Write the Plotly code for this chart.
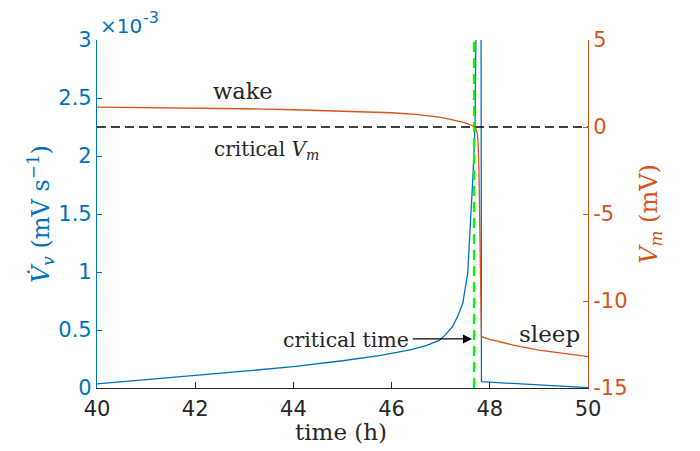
import plotly.graph_objects as go

# ---- data ----
# time (h) and dV_v/dt in units of 1e-3 mV/s (blue, left axis)
t_vdot = [40.0, 41.0, 42.0, 43.0, 44.0, 45.0, 45.75, 46.0, 46.4, 46.7, 46.97, 47.1,
          47.24, 47.35, 47.45, 47.55, 47.61, 47.66, 47.70, 47.72, 47.74, 47.82, 47.83,
          48.0, 48.5, 49.0, 49.5, 50.0]
vdot_e3 = [0.035, 0.07, 0.105, 0.145, 0.185, 0.235, 0.28, 0.30, 0.33, 0.365, 0.41, 0.46,
           0.53, 0.62, 0.73, 0.99, 1.42, 1.85, 2.28, 3.0, 4.0, 4.0, 0.055,
           0.05, 0.037, 0.025, 0.014, 0.003]

# time (h) and V_m (mV) (orange, right axis)
t_vm = [40.0, 41.0, 42.0, 43.0, 44.0, 45.0, 45.5, 46.0, 46.5, 46.8, 47.0, 47.2, 47.35,
        47.5, 47.6, 47.66, 47.70, 47.74, 47.76, 47.78, 47.79, 47.80, 47.81, 47.815, 47.83,
        48.0, 48.5, 49.0, 49.5, 50.0]
vm = [1.14, 1.12, 1.09, 1.05, 0.99, 0.92, 0.88, 0.82, 0.72, 0.64, 0.55, 0.44, 0.36,
      0.24, 0.13, 0.05, 0.0, -0.3, -0.8, -2.6, -4.5, -6.5, -9.5, -11.5, -12.05,
      -12.2, -12.55, -12.82, -13.03, -13.2]

critical_vm = 0.0
critical_time = 47.68

x_ticks = [40, 42, 44, 46, 48, 50]
y_left_ticks = [0, 0.5, 1, 1.5, 2, 2.5, 3]
y_left_text = ["0", "0.5", "1", "1.5", "2", "2.5", "3"]
y_right_ticks = [-15, -10, -5, 0, 5]
y_right_text = ["-15", "-10", "-5", "0", "5"]

BLUE = "#0072BD"
ORANGE = "#D95319"
DARK = "#262626"
SANS = "DejaVu Sans, sans-serif"
SERIF = "DejaVu Serif, serif"

fig = go.Figure()

# critical V_m dashed line
fig.add_trace(go.Scatter(x=[40, 50], y=[critical_vm, critical_vm], yaxis="y2",
                         mode="lines", line=dict(color="black", width=1.3, dash="9px,5px"),
                         showlegend=False, hoverinfo="skip"))
# V_m
fig.add_trace(go.Scatter(x=t_vm, y=vm, yaxis="y2", mode="lines",
                         line=dict(color=ORANGE, width=1.3), showlegend=False))
# dV/dt
fig.add_trace(go.Scatter(x=t_vdot, y=vdot_e3, yaxis="y", mode="lines",
                         line=dict(color=BLUE, width=1.3), showlegend=False))
# critical time green dashed
fig.add_trace(go.Scatter(x=[critical_time, critical_time], y=[0, 3], yaxis="y",
                         mode="lines", line=dict(color="#00FF00", width=2.4, dash="10px,6px"),
                         showlegend=False, hoverinfo="skip"))

fig.update_layout(
    width=700, height=451,
    margin=dict(l=97, r=112, t=40, b=63),
    plot_bgcolor="white", paper_bgcolor="white",
    showlegend=False,
    xaxis=dict(range=[40, 50], tickvals=x_ticks, ticks="inside", ticklen=6,
               tickcolor=DARK, showline=True, linecolor=DARK, linewidth=1,
               showgrid=False, zeroline=False, ticklabelstandoff=2,
               tickfont=dict(family=SANS, size=21, color=DARK)),
    yaxis=dict(range=[0, 3], tickvals=y_left_ticks, ticktext=y_left_text,
               ticks="inside", ticklen=5, tickcolor=BLUE, showline=True,
               linecolor=BLUE, linewidth=1.2, showgrid=False, zeroline=False,
               tickfont=dict(family=SANS, size=21, color=BLUE)),
    yaxis2=dict(range=[-15, 5], tickvals=y_right_ticks, ticktext=y_right_text,
                overlaying="y", side="right", anchor="x",
                ticks="inside", ticklen=5, tickcolor=ORANGE, showline=True,
                linecolor=ORANGE, linewidth=1.2, showgrid=False, zeroline=False,
                tickfont=dict(family=SANS, size=21, color=ORANGE)),
)

ann = [
    dict(text="×10", xref="paper", yref="paper", x=0.002, y=1.040,
         xanchor="left", yanchor="middle", showarrow=False,
         font=dict(family=SANS, size=20, color=BLUE)),
    dict(text="-3", xref="paper", yref="paper", x=0.089, y=1.064,
         xanchor="left", yanchor="middle", showarrow=False,
         font=dict(family=SANS, size=16, color=BLUE)),
    dict(text="<i>V̇</i><sub><i>v</i></sub> (mV s<sup>−1</sup>)", xref="paper", yref="paper",
         x=-0.116, y=0.5, textangle=-90, showarrow=False,
         xanchor="center", yanchor="middle",
         font=dict(family=SERIF, size=24, color=BLUE)),
    dict(text="<i>V</i><sub><i>m</i></sub> (mV)", xref="paper", yref="paper",
         x=1.126, y=0.5, textangle=-90, showarrow=False,
         xanchor="center", yanchor="middle",
         font=dict(family=SERIF, size=24, color=ORANGE)),
    dict(text="time (h)", xref="paper", yref="paper", x=0.497, y=-0.126,
         showarrow=False, xanchor="center", yanchor="middle",
         font=dict(family=SERIF, size=23, color=DARK)),
    dict(text="wake", xref="x", yref="y2", x=42.97, y=2.07, showarrow=False,
         xanchor="center", yanchor="middle",
         font=dict(family=SERIF, size=22.5, color=DARK)),
    dict(text="critical <i>V</i><sub><i>m</i></sub>", xref="x", yref="y2", x=43.45, y=-1.3,
         showarrow=False, xanchor="center", yanchor="middle",
         font=dict(family=SERIF, size=20, color=DARK)),
    dict(text="critical time", xref="x", yref="y2", x=45.07, y=-12.24,
         showarrow=False, xanchor="center", yanchor="middle",
         font=dict(family=SERIF, size=20.5, color=DARK)),
    dict(text="", xref="x", yref="y2", x=47.64, y=-12.18,
         ax=46.40, ay=-12.18, axref="x", ayref="y2",
         showarrow=True, arrowhead=2, arrowsize=1.4, arrowwidth=1.3, arrowcolor="black"),
    dict(text="sleep", xref="x", yref="y2", x=49.21, y=-11.9, showarrow=False,
         xanchor="center", yanchor="middle",
         font=dict(family=SERIF, size=23, color=DARK)),
]
fig.update_layout(annotations=ann)

fig.write_html("out.html", config={"displayModeBar": False},
               post_script="document.body.style.margin='0';")
